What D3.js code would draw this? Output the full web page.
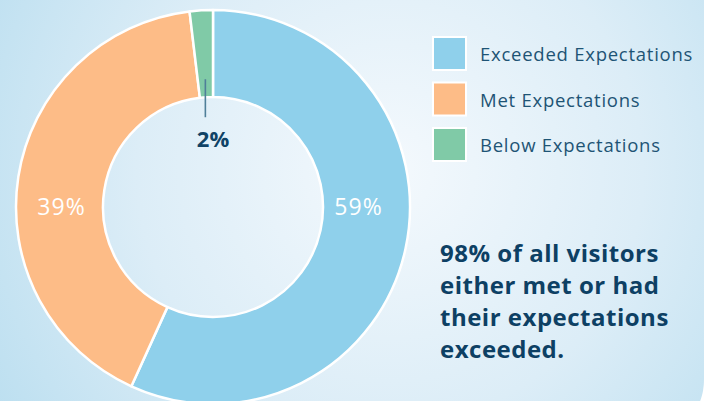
<!DOCTYPE html>
<html>
<head>
<meta charset="utf-8">
<script src="https://cdn.jsdelivr.net/npm/d3@7"></script>
<style>
  html, body { margin: 0; padding: 0; background: #fff; }
  svg { display: block; font-family: "Open Sans", Lato, sans-serif; }
</style>
</head>
<body>
<div id="chart"></div>
<script>
"use strict";

// categories and slice sizes as drawn in the picture
var categories = ["Exceeded Expectations", "Met Expectations", "Below Expectations"];
var shares = [56.8, 41.3, 1.9];
var labels = ["59%", "39%", "2%"];
var colors = ["#8fd0eb", "#fdbc87", "#80caa7"];
var noteLines = ["98% of all visitors", "either met or had", "their expectations", "exceeded."];

var width = 712, height = 401;
var cx = 213, cy = 207, outerR = 197, innerR = 110;

var svg = d3.select("#chart").append("svg")
  .attr("width", width).attr("height", height);

// == BACKGROUND PANEL ==
var defs = svg.append("defs");
var grad = defs.append("radialGradient")
  .attr("id", "bg").attr("gradientUnits", "userSpaceOnUse")
  .attr("cx", 390).attr("cy", 170).attr("r", 460);
grad.append("stop").attr("offset", "0%").attr("stop-color", "#f4f9fd");
grad.append("stop").attr("offset", "55%").attr("stop-color", "#dcedf7");
grad.append("stop").attr("offset", "100%").attr("stop-color", "#bcdff0");

// panel with rounded bottom-right corner
var pr = 60, px = 704, pb = 440;
svg.append("path")
  .attr("d", "M-10,-10 L" + px + ",-10 L" + px + "," + (pb - pr) +
    " A" + pr + "," + pr + " 0 0 1 " + (px - pr) + "," + pb + " L-10," + pb + " Z")
  .attr("fill", "url(#bg)");

// == DONUT ==
var pie = d3.pie().sort(null).value(function(d) { return d; });
var arcs = pie(shares);
var arc = d3.arc().innerRadius(innerR).outerRadius(outerR);

var g = svg.append("g").attr("transform", "translate(" + cx + "," + cy + ")");

g.selectAll("path.slice")
  .data(arcs)
  .enter()
  .append("path")
  .attr("class", "slice")
  .attr("d", arc)
  .attr("fill", function(d, i) { return colors[i]; })
  .attr("stroke", "#fff")
  .attr("stroke-width", 2.5)
  .attr("stroke-linejoin", "round");

// big labels sit left / right in the ring
var midR = (innerR + outerR) / 2;
g.append("text")
  .attr("x", midR - 8).attr("y", 0)
  .attr("dy", "0.36em")
  .attr("text-anchor", "middle")
  .attr("fill", "#fff")
  .style("font-size", "23px")
  .style("letter-spacing", "1px")
  .text(labels[0]);

g.append("text")
  .attr("x", -midR + 2).attr("y", 0)
  .attr("dy", "0.36em")
  .attr("text-anchor", "middle")
  .attr("fill", "#fff")
  .style("font-size", "23px")
  .style("letter-spacing", "1px")
  .text(labels[1]);

// small slice: leader line + label in the hole
var small = arcs[2];
var midAngle = (small.startAngle + small.endAngle) / 2;
var lx = Math.sin(midAngle) * (innerR + 18);
var ly = -Math.cos(midAngle) * (innerR + 18);
g.append("line")
  .attr("x1", lx).attr("y1", ly)
  .attr("x2", lx).attr("y2", ly + 38)
  .attr("stroke", "#4f7f99")
  .attr("stroke-width", 1.6);

g.append("text")
  .attr("x", 0).attr("y", -60)
  .attr("text-anchor", "middle")
  .attr("fill", "#104366")
  .style("font-size", "22px")
  .style("font-weight", "bold")
  .text(labels[2]);

// == LEGEND ==
var legend = svg.append("g").attr("transform", "translate(433,37)");
var item = legend.selectAll("g")
  .data(categories)
  .enter()
  .append("g")
  .attr("transform", function(d, i) { return "translate(0," + (i * 45.5) + ")"; });

item.append("rect")
  .attr("width", 33).attr("height", 33)
  .attr("fill", function(d, i) { return colors[i]; })
  .attr("stroke", "#fff")
  .attr("stroke-width", 2);

item.append("text")
  .attr("x", 47).attr("y", 24)
  .attr("fill", "#1e5475")
  .style("font-size", "18.5px")
  .style("letter-spacing", "0.75px")
  .text(function(d) { return d; });

// == NOTE ==
svg.append("g").selectAll("text")
  .data(noteLines)
  .enter()
  .append("text")
  .attr("x", 440)
  .attr("y", function(d, i) { return 262 + i * 32; })
  .attr("fill", "#0d4064")
  .style("font-size", "24px")
  .style("font-weight", "bold")
  .style("letter-spacing", "0.5px")
  .text(function(d) { return d; });
</script>
</body>
</html>
